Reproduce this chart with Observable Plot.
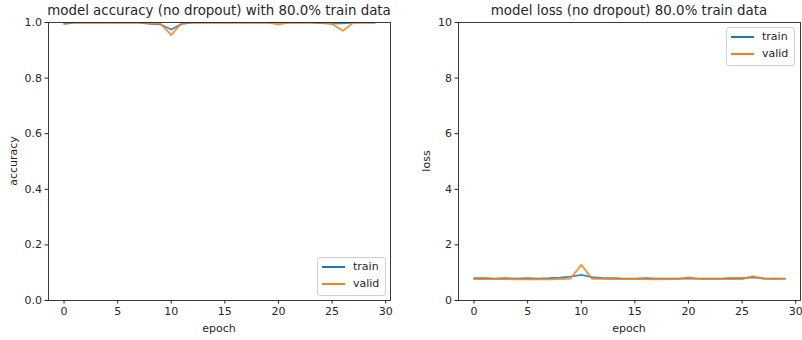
<!DOCTYPE html>
<html>
<head>
<meta charset="utf-8">
<script src="https://cdn.jsdelivr.net/npm/d3@7"></script>
<script src="https://cdn.jsdelivr.net/npm/@observablehq/plot@0.6"></script>
<style>
  body { margin: 0; background: #fff; font-family: "DejaVu Sans", sans-serif; }
  #wrap { position: relative; width: 802px; height: 340px; overflow: hidden; }
  .panel { position: absolute; top: 0; }
  .txt { position: absolute; color: #262626; white-space: nowrap; font-family: "DejaVu Sans", sans-serif; line-height: 1; }
  .title { font-size: 13.4px; transform: translateX(-50%); top: 4px; }
  .xlab { font-size: 11px; transform: translateX(-50%); top: 323px; }
  .ylab { font-size: 11px; transform: translate(-50%, -50%) rotate(-90deg); }
  .legend { position: absolute; background: rgba(255,255,255,0.8); border: 1px solid #d0d0d0; border-radius: 3px; font-size: 11px; color: #262626; line-height: 1; }
  .legend .row { position: absolute; left: 0; height: 14px; }
  .legend .sw { position: absolute; left: 4px; width: 23px; height: 0; border-top: 2px solid; }
  .legend .lab { position: absolute; left: 35px; top: -6px; }
</style>
</head>
<body>
<div id="wrap"></div>
<script>
const epochs = d3.range(0, 30);
const accTrain = [0.995, 1, 1, 1, 1, 1, 1, 1, 0.995, 0.993, 0.975, 0.995, 1, 1, 1, 1, 1, 1, 1, 1, 1, 1, 1, 1, 0.998, 0.996, 0.997, 1, 1, 1];
const accValid = [1, 1, 1, 1, 1, 1, 1, 1, 0.998, 0.996, 0.955, 1, 1, 1, 1, 1, 1, 1, 1, 1, 0.993, 1, 1, 1, 1, 0.995, 0.97, 1, 1, 1];
const lossTrain = [0.80, 0.80, 0.79, 0.80, 0.79, 0.80, 0.79, 0.80, 0.82, 0.86, 0.92, 0.84, 0.80, 0.80, 0.79, 0.79, 0.80, 0.79, 0.79, 0.79, 0.80, 0.79, 0.79, 0.79, 0.80, 0.80, 0.83, 0.80, 0.79, 0.79];
const lossValid = [0.77, 0.77, 0.77, 0.77, 0.76, 0.77, 0.76, 0.76, 0.77, 0.79, 1.28, 0.78, 0.78, 0.77, 0.77, 0.78, 0.77, 0.76, 0.77, 0.77, 0.83, 0.77, 0.77, 0.77, 0.77, 0.77, 0.88, 0.78, 0.77, 0.78];
const seriesNames = ["train", "valid"];
const seriesColors = ["#1f77b4", "#ff7f0e"];
const xTicks = [0, 5, 10, 15, 20, 25, 30];
const accTicks = [0, 0.2, 0.4, 0.6, 0.8, 1.0];
const lossTicks = [0, 2, 4, 6, 8, 10];
const titles = ["model accuracy (no dropout) with 80.0% train data", "model loss (no dropout) 80.0% train data"];

function toRows(a, b) {
  return epochs.flatMap(e => [
    {epoch: e, value: a[e], series: seriesNames[0]},
    {epoch: e, value: b[e], series: seriesNames[1]}
  ]);
}

function makePlot(rows, yDomain, yTicks, yFmt, ml, mr) {
  return Plot.plot({
    width: 401, height: 340,
    marginLeft: ml, marginRight: mr, marginTop: 22, marginBottom: 40,
    style: {fontFamily: "DejaVu Sans, sans-serif", fontSize: "11px", color: "#262626", background: "transparent"},
    x: {domain: [-1.45, 30.45], ticks: xTicks, label: null},
    y: {domain: yDomain, ticks: yTicks, label: null, tickFormat: yFmt},
    color: {domain: seriesNames, range: seriesColors},
    marks: [
      Plot.line(rows, {x: "epoch", y: "value", z: "series", stroke: "series", strokeWidth: 1.8, strokeOpacity: 0.85, clip: true}),
      Plot.frame({stroke: "#262626", strokeWidth: 0.9}),
      Plot.axisX({ticks: xTicks, tickSize: 3.5, tickPadding: 3, label: null, stroke: "#262626"}),
      Plot.axisY({ticks: yTicks, tickSize: 3.5, tickPadding: 3, label: null, tickFormat: yFmt, stroke: "#262626"})
    ]
  });
}

const wrap = document.getElementById("wrap");
const p1 = makePlot(toRows(accTrain, accValid), [0, 1], accTicks, d3.format(".1f"), 48, 11);
const p2 = makePlot(toRows(lossTrain, lossValid), [0, 10], lossTicks, d3.format("d"), 57, 2);
const d1 = document.createElement("div"); d1.className = "panel"; d1.style.left = "0px"; d1.appendChild(p1); wrap.appendChild(d1);
const d2 = document.createElement("div"); d2.className = "panel"; d2.style.left = "401px"; d2.appendChild(p2); wrap.appendChild(d2);

function addText(cls, text, left, top) {
  const t = document.createElement("div");
  t.className = "txt " + cls; t.textContent = text;
  t.style.left = left + "px"; if (top != null) t.style.top = top + "px";
  wrap.appendChild(t);
}
addText("title", titles[0], 219, null);
addText("title", titles[1], 629, null);
addText("xlab", "epoch", 219, null);
addText("xlab", "epoch", 629, null);
addText("ylab", "accuracy", 13, 161);
addText("ylab", "loss", 426, 161);

function addLegend(left, top) {
  const lg = document.createElement("div");
  lg.className = "legend";
  lg.style.left = left + "px"; lg.style.top = top + "px";
  lg.style.width = "67px"; lg.style.height = "37px";
  seriesNames.forEach((n, i) => {
    const r = document.createElement("div"); r.className = "row";
    r.style.top = (9 + i * 17) + "px"; r.style.width = "67px";
    const s = document.createElement("div"); s.className = "sw"; s.style.borderTopColor = seriesColors[i]; s.style.top = "-1px";
    const l = document.createElement("div"); l.className = "lab"; l.textContent = n;
    r.appendChild(s); r.appendChild(l); lg.appendChild(r);
  });
  wrap.appendChild(lg);
}
addLegend(317, 257);
addLegend(726, 27);
</script>
</body>
</html>
